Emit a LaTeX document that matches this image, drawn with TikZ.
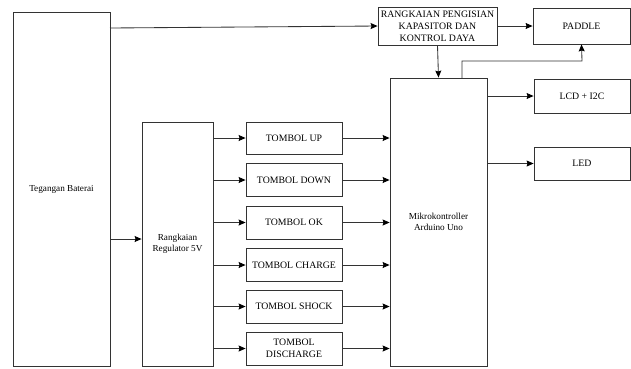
\documentclass[tikz,border=0pt]{standalone}
\usepackage{fontspec}
\setmainfont{Liberation Serif}
\usetikzlibrary{arrows.meta}
\begin{document}
\begin{tikzpicture}[x=1pt,y=-1pt,
  blk/.style={draw=black!80,line width=0.85pt,rectangle,inner sep=1pt,align=center,font=\fontsize{9.8}{11.8}\selectfont},
  sblk/.style={blk,font=\fontsize{9.2}{11}\selectfont},
  arr/.style={draw=black!80,line width=0.85pt,-{Stealth[length=7pt,width=6pt,inset=1pt,fill=black,color=black]}}]
\useasboundingbox (0,0) rectangle (631,368);
\node[sblk,minimum width=97pt,minimum height=354pt] (bat) at (61.5,189) {Tegangan Baterai};
\node[blk,minimum width=119pt,minimum height=38pt] (rk) at (437.5,26) {RANGKAIAN PENGISIAN\\KAPASITOR DAN\\KONTROL DAYA};
\node[blk,minimum width=97pt,minimum height=36pt] (pad) at (581.5,26) {PADDLE};
\node[blk,minimum width=96pt,minimum height=34pt] (lcd) at (582,96) {LCD + I2C};
\node[blk,minimum width=96pt,minimum height=33pt] (led) at (582,163.5) {LED};
\node[sblk,minimum width=97pt,minimum height=288pt] (mik) at (438.5,222) {Mikrokontroller\\Arduino Uno};
\node[sblk,minimum width=71pt,minimum height=244pt] (reg) at (177.5,244) {Rangkaian\\Regulator 5V};
\node[blk,minimum width=96pt,minimum height=32pt] (t1) at (294,138) {TOMBOL UP};
\node[blk,minimum width=96pt,minimum height=33pt] (t2) at (294,180) {TOMBOL DOWN};
\node[blk,minimum width=96pt,minimum height=33pt] (t3) at (294,222.5) {TOMBOL OK};
\node[blk,minimum width=96pt,minimum height=33pt] (t4) at (294,265) {TOMBOL CHARGE};
\node[blk,minimum width=96pt,minimum height=33pt] (t5) at (294,306.5) {TOMBOL SHOCK};
\node[blk,minimum width=96pt,minimum height=33pt] (t6) at (294,348.5) {TOMBOL\\DISCHARGE};
\coordinate (bo) at (110,28);
\coordinate (mo) at (462,78);
\coordinate (mk) at (462,61);
\coordinate (pk) at (582,61);
\coordinate (bb) at (110,239);
\draw[arr] (bo) -- (rk.west);
\draw[arr] (rk.east) -- (pad.west);
\draw[arr] (rk.south) -- (mik.north);
\draw[arr] (mo) -- (mk) -- (pk) -- (pad.south);
\draw[arr] (mik.east |- lcd.west) -- (lcd.west);
\draw[arr] (mik.east |- led.west) -- (led.west);
\draw[arr] (bb) -- (reg.west |- bb);
\foreach \t in {t1,t2,t3,t4,t5,t6}{
  \draw[arr] (reg.east |- \t.west) -- (\t.west);
  \draw[arr] (\t.east) -- (mik.west |- \t.east);
}
\end{tikzpicture}
\end{document}
